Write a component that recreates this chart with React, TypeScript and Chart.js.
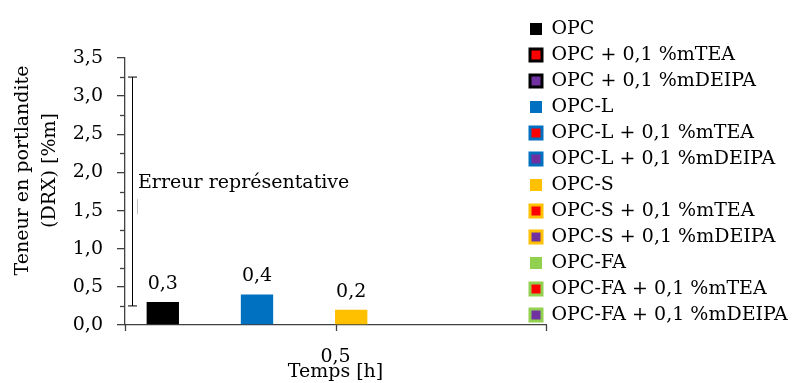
import React, { useEffect, useRef } from 'react';
import { Chart, registerables } from 'chart.js';

Chart.register(...registerables);

// ---- data ----
const categories: string[] = ['0,5'];
const seriesNames: string[] = [
  'OPC',
  'OPC + 0,1 %mTEA',
  'OPC + 0,1 %mDEIPA',
  'OPC-L',
  'OPC-L + 0,1 %mTEA',
  'OPC-L + 0,1 %mDEIPA',
  'OPC-S',
  'OPC-S + 0,1 %mTEA',
  'OPC-S + 0,1 %mDEIPA',
  'OPC-FA',
  'OPC-FA + 0,1 %mTEA',
  'OPC-FA + 0,1 %mDEIPA',
];
const seriesValues: (number | null)[][] = [
  [0.3], [null], [null],
  [0.4], [null], [null],
  [0.2], [null], [null],
  [null], [null], [null],
];
const fillColors: string[] = [
  '#000000', '#FF0000', '#7030A0',
  '#0070C0', '#FF0000', '#7030A0',
  '#FFC000', '#FF0000', '#7030A0',
  '#92D050', '#FF0000', '#7030A0',
];
const edgeColors: string[] = [
  '#000000', '#000000', '#000000',
  '#0070C0', '#0070C0', '#0070C0',
  '#FFC000', '#FFC000', '#FFC000',
  '#92D050', '#92D050', '#92D050',
];
const edgeWidths: number[] = [0, 3, 3, 0, 3, 3, 0, 3, 3, 0, 3, 3];

const yMin = 0;
const yMax = 3.5;
const yStep = 0.5;
const yMinorStep = 0.25;
const yTitle: string[] = ['Teneur en portlandite', '(DRX) [%m]'];
const xTitle = 'Temps [h]';

// representative error bar annotation
const errorBarRange: number[] = [0.25, 3.25];
const errorLabel = 'Erreur représentative';
const errorLabelValue = 1.8;
const faintMarkRange: number[] = [1.45, 1.65];

const FONT = 'DejaVu Serif';
const AXIS = '#404040';

const fmt = (v: number) => v.toFixed(1).replace('.', ',');

export default function App() {
  const ref = useRef<HTMLCanvasElement | null>(null);

  useEffect(() => {
    if (!ref.current) return;

    const extras = {
      id: 'extras',
      afterLayout(chart: any) {
        const lg = chart.legend;
        if (lg) {
          lg.left = chart.chartArea.right - 16 - lg.options.labels.padding;
          lg.top = 12.5;
        }
      },
      afterDraw(chart: any) {
        const ctx = chart.ctx;
        const { left, right, bottom } = chart.chartArea;
        const y = chart.scales.y;
        const x = chart.scales.x;
        ctx.save();
        // minor y ticks
        ctx.strokeStyle = AXIS;
        ctx.lineWidth = 1.3;
        for (let v = yMinorStep; v < yMax; v += yStep) {
          const py = Math.round(y.getPixelForValue(v)) + 0.5;
          ctx.beginPath();
          ctx.moveTo(left - 5, py);
          ctx.lineTo(left, py);
          ctx.stroke();
        }
        // x ticks (category boundaries + center)
        const xs = [left, x.getPixelForValue(0), right];
        xs.forEach((px) => {
          const p = Math.round(px) + 0.5;
          ctx.beginPath();
          ctx.moveTo(p, bottom);
          ctx.lineTo(p, bottom + 6);
          ctx.stroke();
        });
        // error bar
        const ex = Math.round(left + 6.5) + 0.5;
        const eTop = y.getPixelForValue(errorBarRange[1]);
        const eBot = y.getPixelForValue(errorBarRange[0]);
        ctx.strokeStyle = '#000';
        ctx.lineWidth = 1;
        ctx.beginPath();
        ctx.moveTo(ex, eTop);
        ctx.lineTo(ex, eBot);
        ctx.moveTo(ex - 4.5, eTop);
        ctx.lineTo(ex + 4.5, eTop);
        ctx.moveTo(ex - 4.5, eBot);
        ctx.lineTo(ex + 4.5, eBot);
        ctx.stroke();
        // faint mark
        const fx = ex + 5;
        ctx.strokeStyle = '#c0c0c0';
        ctx.beginPath();
        ctx.moveTo(fx, y.getPixelForValue(faintMarkRange[1]));
        ctx.lineTo(fx, y.getPixelForValue(faintMarkRange[0]));
        ctx.stroke();
        // label
        ctx.fillStyle = '#000';
        ctx.font = `19px "${FONT}"`;
        ctx.textAlign = 'left';
        ctx.textBaseline = 'alphabetic';
        ctx.fillText(errorLabel, ex + 5.5, y.getPixelForValue(errorLabelValue));
        // data labels
        ctx.textAlign = 'center';
        chart.data.datasets.forEach((ds: any, i: number) => {
          const meta = chart.getDatasetMeta(i);
          ds.data.forEach((v: number | null, j: number) => {
            if (v === null || v === undefined) return;
            const el = meta.data[j];
            ctx.fillText(fmt(v), el.x, el.y - 13);
          });
        });
        // y-axis title (two lines, rotated)
        ctx.textBaseline = 'middle';
        ctx.textAlign = 'center';
        const cy = (chart.chartArea.top + bottom) / 2 - 21;
        yTitle.forEach((line, k) => {
          ctx.save();
          ctx.translate(23.5 + k * 26.5, cy);
          ctx.rotate(-Math.PI / 2);
          ctx.fillText(line, 0, 0);
          ctx.restore();
        });
        ctx.restore();
      },
    };

    const chart = new Chart(ref.current, {
      type: 'bar',
      data: {
        labels: categories,
        datasets: seriesNames.map((name, i) => ({
          label: name,
          data: seriesValues[i],
          backgroundColor: fillColors[i],
          borderColor: edgeColors[i],
          borderWidth: edgeWidths[i],
          categoryPercentage: 0.895,
          barPercentage: 1.03,
        })),
      },
      options: {
        animation: false,
        responsive: false,
        maintainAspectRatio: false,
        layout: { padding: { top: 58, left: 0, right: 0, bottom: 0 } },
        plugins: {
          tooltip: { enabled: false },
          legend: {
            display: true,
            position: 'right',
            align: 'start',
            maxWidth: 249,
            labels: {
              boxWidth: 12,
              boxHeight: 12,
              padding: 7,
              color: '#000',
              font: { family: FONT, size: 19 },
            },
          },
        },
        scales: {
          x: {
            offset: true,
            grid: { display: false },
            border: { display: true, color: AXIS, width: 1.3 },
            ticks: { padding: 13, color: '#000', font: { family: FONT, size: 19 } },
            title: {
              display: true,
              text: xTitle,
              color: '#000',
              font: { family: FONT, size: 19 },
              padding: { top: 0, bottom: 6.6 },
            },
            afterFit: (s: any) => { s.height = 65; },
          },
          y: {
            min: yMin,
            max: yMax,
            ticks: {
              stepSize: yStep,
              padding: 14,
              color: '#000',
              font: { family: FONT, size: 19 },
              callback: (v: any) => fmt(Number(v)),
            },
            grid: { display: true, drawOnChartArea: false, drawTicks: true, tickLength: 8, color: AXIS, lineWidth: 1.3 },
            border: { display: true, color: AXIS, width: 1.3 },
            title: { display: false },
            afterFit: (s: any) => { s.width = 125; },
          },
        },
      },
      plugins: [extras],
    } as any);

    return () => chart.destroy();
  }, []);

  return (
    <div style={{ position: 'absolute', left: 0, top: 0, width: 795, height: 390 }}>
      <canvas ref={ref} width={795} height={390} style={{ display: 'block' }} />
    </div>
  );
}
